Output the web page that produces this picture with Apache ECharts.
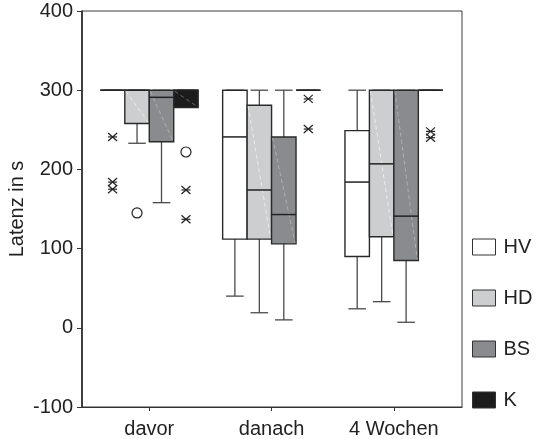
<!DOCTYPE html>
<html>
<head>
<meta charset="utf-8">
<script src="https://cdn.jsdelivr.net/npm/echarts@6/dist/echarts.min.js"></script>
<style>
  html, body { margin: 0; padding: 0; background: #fff; }
  #chart { width: 540px; height: 439px; }
</style>
</head>
<body>
<div id="chart"></div>
<script>
// Time points on the x axis
const categories = ['davor', 'danach', '4 Wochen'];
// Groups, in legend order
const groupNames = ['HV', 'HD', 'BS', 'K'];
// Tick labels of the latency axis
const yTicks = [-100, 0, 100, 200, 300, 400];

// Box statistics per time point: [min, q1, median, q3, max] (seconds)
const hvBoxes = [[300, 300, 300, 300, 300], [40, 112, 241, 300, 300], [24, 90, 184, 249, 300]];
const hdBoxes = [[233, 258, 300, 300, 300], [19, 112, 174, 281, 300], [33, 115, 207, 300, 300]];
const bsBoxes = [[158, 235, 291, 300, 300], [10, 106, 143, 241, 300], [7, 85, 141, 300, 300]];
const kBoxes  = [[278, 278, 300, 300, 300], [300, 300, 300, 300, 300], [300, 300, 300, 300, 300]];

// Outliers: [time point index, value, marker]
const hvOutliers = [[0, 241, 'star'], [0, 184, 'star'], [0, 175, 'star']];
const hdOutliers = [[0, 145, 'circle']];
const bsOutliers = [];
const kOutliers  = [[0, 222, 'circle'], [0, 174, 'star'], [0, 137, 'star'],
                    [1, 289, 'star'], [1, 251, 'star'],
                    [2, 248, 'star'], [2, 240, 'star']];

const FONT = '"Liberation Sans", Arial, Helvetica, sans-serif';
const BOX_W = 0.2;            // box width in axis units
const CAP_RATIO = 0.72;       // whisker cap width relative to the box
const fills = ['#ffffff', '#cdced0', '#8a8b8e', '#1c1c1c'];
const diagColors = ['rgba(0,0,0,0)', 'rgba(255,255,255,0.6)', 'rgba(200,200,200,0.6)', 'rgba(120,120,120,0.8)'];
const boxSets = [hvBoxes, hdBoxes, bsBoxes, kBoxes];
const outlierSets = [hvOutliers, hdOutliers, bsOutliers, kOutliers];

function centerOf(cat, g) {
  return cat + (g - 1.5) * BOX_W;
}

function boxRenderer(g) {
  return function (params, api) {
    const cat = api.value(0);
    const xc = centerOf(cat, g);
    const mn = api.value(1), q1 = api.value(2), md = api.value(3), q3 = api.value(4), mx = api.value(5);
    const tl = api.coord([xc - BOX_W / 2, q3]);
    const br = api.coord([xc + BOX_W / 2, q1]);
    const c = api.coord([xc, 0]);
    const capHalf = (br[0] - tl[0]) * CAP_RATIO / 2;
    const yMin = api.coord([xc, mn])[1];
    const yMax = api.coord([xc, mx])[1];
    const yMed = api.coord([xc, md])[1];
    const whisker = { stroke: '#4a4a4a', lineWidth: 1.3 };
    const children = [];
    if (mn < q1) {
      children.push({ type: 'line', shape: { x1: c[0], y1: br[1], x2: c[0], y2: yMin }, style: whisker });
      children.push({ type: 'line', shape: { x1: c[0] - capHalf, y1: yMin, x2: c[0] + capHalf, y2: yMin }, style: whisker });
    }
    if (mx > q3) {
      children.push({ type: 'line', shape: { x1: c[0], y1: tl[1], x2: c[0], y2: yMax }, style: whisker });
    }
    children.push({ type: 'line', shape: { x1: c[0] - capHalf, y1: yMax, x2: c[0] + capHalf, y2: yMax }, style: whisker });
    children.push({
      type: 'rect',
      shape: { x: tl[0], y: tl[1], width: br[0] - tl[0], height: br[1] - tl[1] },
      style: { fill: fills[g], stroke: '#2a2a2a', lineWidth: 1.4 }
    });
    if (br[1] - tl[1] > 2) {
      children.push({
        type: 'line',
        shape: { x1: tl[0] + 1, y1: tl[1] + 1, x2: br[0] - 1, y2: br[1] - 1 },
        style: { stroke: diagColors[g], lineWidth: 1, lineDash: [4, 3] }
      });
    }
    children.push({ type: 'line', shape: { x1: tl[0], y1: yMed, x2: br[0], y2: yMed }, style: { stroke: '#222', lineWidth: 1.5 } });
    return { type: 'group', children: children };
  };
}

function outlierRenderer(g) {
  return function (params, api) {
    const item = outlierSets[g][params.dataIndex];
    const p = api.coord([centerOf(item[0], g), item[1]]);
    const st = { stroke: '#222', lineWidth: 1.2, fill: 'none' };
    if (item[2] === 'circle') {
      return { type: 'circle', shape: { cx: p[0], cy: p[1], r: 5 }, style: st };
    }
    const w = 4.5, h = 4;
    return {
      type: 'group',
      children: [
        { type: 'line', shape: { x1: p[0] - w, y1: p[1] - h, x2: p[0] + w, y2: p[1] + h }, style: st },
        { type: 'line', shape: { x1: p[0] - w, y1: p[1] + h, x2: p[0] + w, y2: p[1] - h }, style: st },
        { type: 'line', shape: { x1: p[0] - w, y1: p[1], x2: p[0] + w, y2: p[1] }, style: st }
      ]
    };
  };
}

const series = [];
groupNames.forEach(function (name, g) {
  series.push({
    name: name,
    type: 'custom',
    renderItem: boxRenderer(g),
    encode: { x: 0, y: [1, 2, 3, 4, 5] },
    data: boxSets[g].map(function (b, i) { return [i].concat(b); }),
    z: 2
  });
});
groupNames.forEach(function (name, g) {
  series.push({
    name: name,
    type: 'custom',
    renderItem: outlierRenderer(g),
    encode: { x: 0, y: 1 },
    data: outlierSets[g].map(function (o) { return [o[0], o[1]]; }),
    z: 3
  });
});

const chart = echarts.init(document.getElementById('chart'), null, { renderer: 'canvas' });
chart.setOption({
  animation: false,
  backgroundColor: '#fff',
  textStyle: { fontFamily: FONT },
  grid: {
    left: 82, top: 11, right: 78, bottom: 32,
    containLabel: false, outerBoundsMode: 'none',
    show: true, borderColor: '#3a3a3a', borderWidth: 1, backgroundColor: 'transparent'
  },
  legend: {
    orient: 'vertical',
    left: 467, top: 232,
    itemWidth: 23, itemHeight: 16, itemGap: 31,
    icon: 'rect',
    textStyle: { fontSize: 20, color: '#222', fontFamily: FONT, padding: [0, 0, 0, 3] },
    data: groupNames.map(function (n, g) {
      return { name: n, itemStyle: { color: fills[g], borderColor: '#333', borderWidth: 1 } };
    })
  },
  xAxis: {
    type: 'value',
    min: -0.55, max: 2.557,
    splitLine: { show: false },
    axisLine: { show: true, onZero: false, lineStyle: { color: '#333', width: 1 } },
    axisTick: { show: true, customValues: [0, 1, 2], length: 4, lineStyle: { color: '#333' } },
    axisLabel: {
      customValues: [0, 1, 2],
      formatter: function (v) { return categories[Math.round(v)]; },
      fontSize: 20, color: '#222', margin: 12, fontFamily: FONT
    }
  },
  yAxis: {
    type: 'value',
    min: yTicks[0], max: yTicks[yTicks.length - 1], interval: 100,
    name: 'Latenz in s',
    nameLocation: 'middle',
    nameGap: 55,
    nameMoveOverlap: false,
    nameTextStyle: { fontSize: 20, color: '#222', fontFamily: FONT },
    splitLine: { show: false },
    axisLine: { show: true, onZero: false, lineStyle: { color: '#222', width: 1.5 } },
    axisTick: { show: true, length: 5, lineStyle: { color: '#333' } },
    axisLabel: { fontSize: 20, color: '#222', margin: 9, fontFamily: FONT }
  },
  series: series
});
</script>
</body>
</html>
